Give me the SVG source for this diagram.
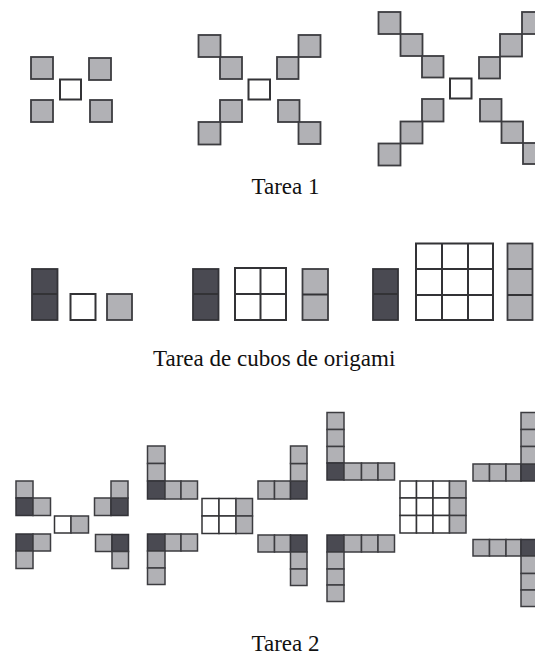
<svg xmlns="http://www.w3.org/2000/svg" width="535" height="655" viewBox="0 0 535 655">
<style>
.g{fill:#b1b1b5;stroke:#3c3c40;stroke-width:1.8}
.d{fill:#4a4a52;stroke:#333338;stroke-width:1.8}
.w{fill:#ffffff;stroke:#333336;stroke-width:2}
.s .g,.s .d,.s .w{stroke-width:1.5}
.ln{stroke:#333336;stroke-width:2;fill:none}
.t{font-family:"Liberation Serif","Times New Roman",serif;font-size:23px;fill:#111}
</style>
<rect width="535" height="655" fill="#ffffff"/>

<!-- Tarea 1 -->
<g id="t1-fig1">
<rect class="g" x="31" y="57" width="22" height="22"/>
<rect class="g" x="89" y="58" width="22" height="22"/>
<rect class="w" x="60" y="79.5" width="21" height="20"/>
<rect class="g" x="31" y="100" width="22" height="22"/>
<rect class="g" x="90" y="100" width="22" height="22"/>
</g>
<g id="t1-fig2">
<rect class="g" x="198.5" y="35" width="22" height="22"/>
<rect class="g" x="220" y="57" width="22" height="22"/>
<rect class="w" x="248.5" y="79.5" width="21.5" height="20"/>
<rect class="g" x="277" y="57" width="21.5" height="22"/>
<rect class="g" x="298.5" y="35" width="22" height="22"/>
<rect class="g" x="220" y="100" width="22" height="22"/>
<rect class="g" x="198.5" y="122" width="22" height="22.5"/>
<rect class="g" x="278" y="100" width="21.5" height="22"/>
<rect class="g" x="298.5" y="122" width="22" height="22"/>
</g>
<g id="t1-fig3">
<rect class="g" x="378.5" y="12" width="22" height="22"/>
<rect class="g" x="400.5" y="34" width="22" height="22"/>
<rect class="g" x="422" y="56" width="21.5" height="21.5"/>
<rect class="w" x="450" y="78.5" width="21.5" height="20"/>
<rect class="g" x="479" y="57" width="21" height="21.5"/>
<rect class="g" x="500" y="34" width="22" height="22.5"/>
<rect class="g" x="522" y="12" width="22" height="22"/>
<rect class="g" x="422" y="99" width="21.5" height="22.5"/>
<rect class="g" x="400.5" y="121.5" width="22" height="22"/>
<rect class="g" x="378.5" y="143.5" width="22" height="22"/>
<rect class="g" x="480" y="99" width="21.5" height="22.5"/>
<rect class="g" x="501.5" y="121.5" width="21.5" height="21.5"/>
<rect class="g" x="523" y="143" width="22" height="21"/>
</g>
<text id="label-tarea1" class="t" x="251.5" y="194">Tarea 1</text>

<!-- Tarea de cubos de origami -->
<g id="o-fig1">
<rect class="d" x="32" y="269" width="25.5" height="51"/>
<line class="ln" x1="32" y1="294" x2="57.5" y2="294"/>
<rect class="w" x="70.5" y="294" width="25" height="26"/>
<rect class="g" x="107" y="294" width="25" height="26"/>
</g>
<g id="o-fig2">
<rect class="d" x="193" y="269" width="25.5" height="51"/>
<line class="ln" x1="193" y1="294" x2="218.5" y2="294"/>
<rect class="w" x="235" y="268" width="51" height="52"/>
<line class="ln" x1="260.5" y1="268" x2="260.5" y2="320"/>
<line class="ln" x1="235" y1="294" x2="286" y2="294"/>
<rect class="g" x="302.5" y="269" width="25.5" height="51"/>
<line class="ln" x1="302.5" y1="294.5" x2="328" y2="294.5"/>
</g>
<g id="o-fig3">
<rect class="d" x="373" y="269" width="25" height="51"/>
<line class="ln" x1="373" y1="294" x2="398" y2="294"/>
<rect class="w" x="416" y="243.5" width="77" height="76.5"/>
<line class="ln" x1="442" y1="243.5" x2="442" y2="320"/>
<line class="ln" x1="468" y1="243.5" x2="468" y2="320"/>
<line class="ln" x1="416" y1="269" x2="493" y2="269"/>
<line class="ln" x1="416" y1="295" x2="493" y2="295"/>
<rect class="g" x="507.5" y="243.5" width="25" height="76.5"/>
<line class="ln" x1="507.5" y1="269" x2="532.5" y2="269"/>
<line class="ln" x1="507.5" y1="295" x2="532.5" y2="295"/>
</g>
<text id="label-origami" class="t" x="153" y="366">Tarea de cubos de origami</text>

<!-- Tarea 2 -->
<g id="t2-fig1" class="s">
<rect class="g" x="16" y="481" width="17" height="17"/>
<rect class="d" x="16" y="498" width="17" height="17.5"/>
<rect class="g" x="33" y="498" width="17.5" height="17.5"/>
<rect class="w" x="54.5" y="516" width="16.5" height="17"/>
<rect class="g" x="71" y="516" width="17.5" height="17"/>
<rect class="g" x="94.5" y="498" width="16.5" height="17.5"/>
<rect class="d" x="111" y="498" width="17" height="17.5"/>
<rect class="g" x="111" y="481" width="17" height="17"/>
<rect class="d" x="16" y="534" width="17" height="17"/>
<rect class="g" x="33" y="534" width="17.5" height="17"/>
<rect class="g" x="16" y="551" width="17" height="17.5"/>
<rect class="g" x="95.5" y="534.5" width="16.5" height="17"/>
<rect class="d" x="112" y="534.5" width="16.5" height="17"/>
<rect class="g" x="112" y="551.5" width="16.5" height="17"/>
</g>
<g id="t2-fig2" class="s">
<rect class="g" x="147.5" y="446" width="17.5" height="17.5"/>
<rect class="g" x="147.5" y="463.5" width="17.5" height="17.5"/>
<rect class="d" x="147.5" y="481" width="17.5" height="18"/>
<rect class="g" x="165" y="481" width="16" height="18"/>
<rect class="g" x="181" y="481" width="16.5" height="18"/>
<rect class="w" x="202" y="498.5" width="17" height="17.5"/>
<rect class="w" x="219" y="498.5" width="17" height="17.5"/>
<rect class="g" x="236" y="498.5" width="16.5" height="17.5"/>
<rect class="w" x="202" y="516" width="17" height="17.5"/>
<rect class="w" x="219" y="516" width="17" height="17.5"/>
<rect class="g" x="236" y="516" width="16.5" height="17.5"/>
<rect class="g" x="258" y="481" width="16.5" height="18"/>
<rect class="g" x="274.5" y="481" width="16" height="18"/>
<rect class="d" x="290.5" y="481" width="16.5" height="18"/>
<rect class="g" x="290.5" y="463.5" width="16.5" height="17.5"/>
<rect class="g" x="290.5" y="446" width="16.5" height="17.5"/>
<rect class="d" x="147.5" y="534" width="17.5" height="17"/>
<rect class="g" x="165" y="534" width="16" height="17"/>
<rect class="g" x="181" y="534" width="16.5" height="17"/>
<rect class="g" x="147.5" y="551" width="17.5" height="17"/>
<rect class="g" x="147.5" y="568" width="17.5" height="16.5"/>
<rect class="g" x="258" y="535" width="16.5" height="17"/>
<rect class="g" x="274.5" y="535" width="16" height="17"/>
<rect class="d" x="290.5" y="535" width="16.5" height="17"/>
<rect class="g" x="290.5" y="552" width="16.5" height="17"/>
<rect class="g" x="290.5" y="569" width="16.5" height="16.5"/>
</g>
<g id="t2-fig3" class="s">
<rect class="g" x="327" y="412.5" width="17" height="17"/>
<rect class="g" x="327" y="429.5" width="17" height="17"/>
<rect class="g" x="327" y="446.5" width="17" height="16.5"/>
<rect class="d" x="327" y="463" width="17" height="17"/>
<rect class="g" x="344" y="463" width="17.5" height="17"/>
<rect class="g" x="361.5" y="463" width="16.5" height="17"/>
<rect class="g" x="378" y="463" width="16.5" height="17"/>
<rect class="w" x="400" y="481" width="16.5" height="17"/>
<rect class="w" x="416.5" y="481" width="16.5" height="17"/>
<rect class="w" x="433" y="481" width="16.5" height="17"/>
<rect class="g" x="449.5" y="481" width="16.5" height="17"/>
<rect class="w" x="400" y="498" width="16.5" height="17.5"/>
<rect class="w" x="416.5" y="498" width="16.5" height="17.5"/>
<rect class="w" x="433" y="498" width="16.5" height="17.5"/>
<rect class="g" x="449.5" y="498" width="16.5" height="17.5"/>
<rect class="w" x="400" y="515.5" width="16.5" height="17.5"/>
<rect class="w" x="416.5" y="515.5" width="16.5" height="17.5"/>
<rect class="w" x="433" y="515.5" width="16.5" height="17.5"/>
<rect class="g" x="449.5" y="515.5" width="16.5" height="17.5"/>
<rect class="g" x="473" y="464" width="16.5" height="17"/>
<rect class="g" x="489.5" y="464" width="16.5" height="17"/>
<rect class="g" x="506" y="464" width="15" height="17"/>
<rect class="d" x="521" y="464" width="17" height="17"/>
<rect class="g" x="521" y="412.5" width="17" height="17"/>
<rect class="g" x="521" y="429.5" width="17" height="17"/>
<rect class="g" x="521" y="446.5" width="17" height="17.5"/>
<rect class="d" x="327" y="535" width="17" height="17"/>
<rect class="g" x="344" y="535" width="17.5" height="17"/>
<rect class="g" x="361.5" y="535" width="16.5" height="17"/>
<rect class="g" x="378" y="535" width="16.5" height="17"/>
<rect class="g" x="327" y="552" width="17" height="17"/>
<rect class="g" x="327" y="569" width="17" height="16"/>
<rect class="g" x="327" y="585" width="17" height="16.5"/>
<rect class="g" x="473" y="539.5" width="16.5" height="16.5"/>
<rect class="g" x="489.5" y="539.5" width="16.5" height="16.5"/>
<rect class="g" x="506" y="539.5" width="15" height="16.5"/>
<rect class="d" x="521" y="539.5" width="17" height="16.5"/>
<rect class="g" x="521" y="556" width="17" height="17.5"/>
<rect class="g" x="521" y="573.5" width="17" height="16.5"/>
<rect class="g" x="521" y="590" width="17" height="16.5"/>
</g>
<text id="label-tarea2" class="t" x="251.5" y="651">Tarea 2</text>
</svg>
